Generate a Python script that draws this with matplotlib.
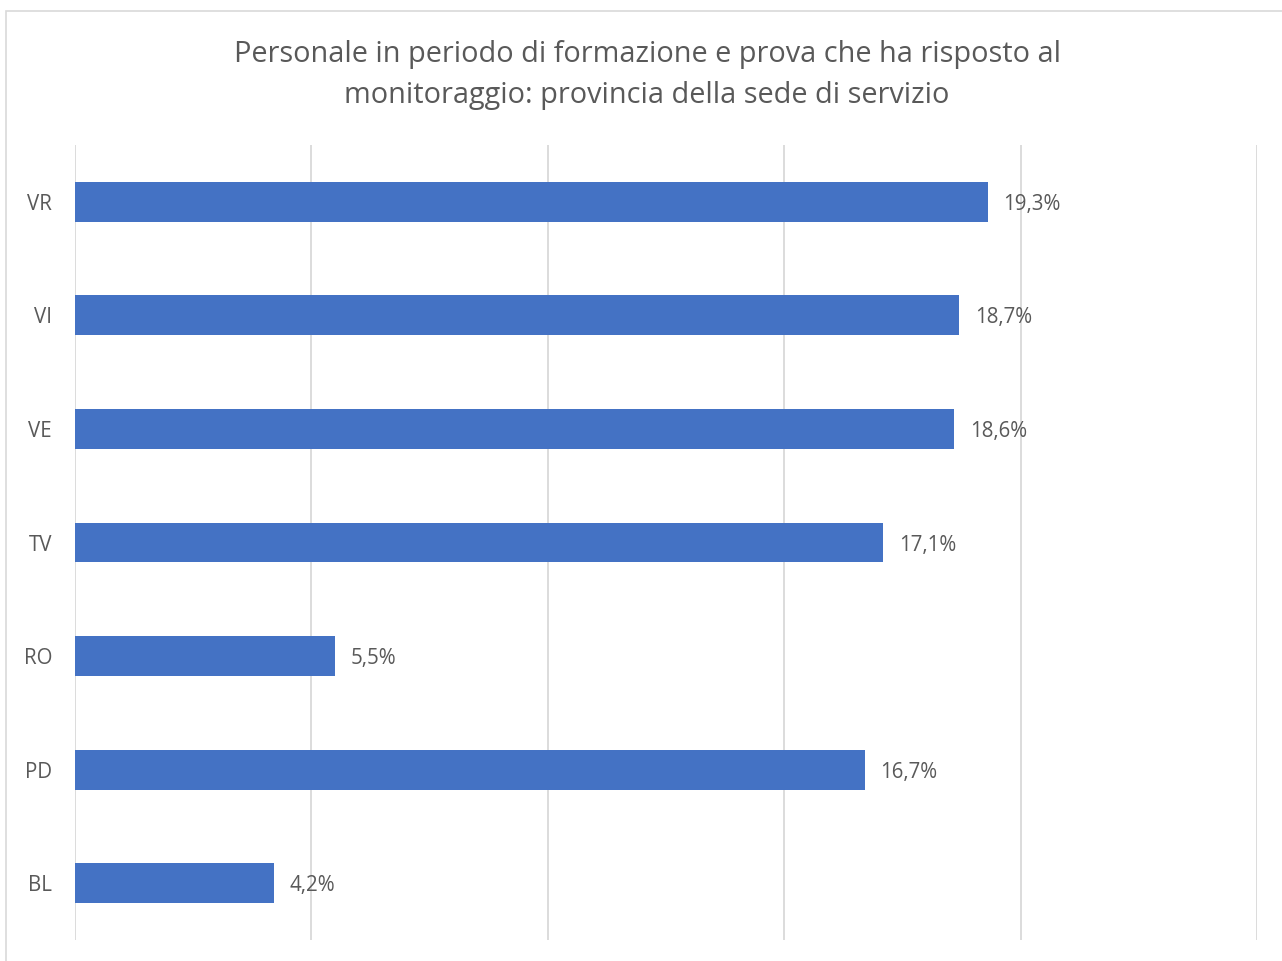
import matplotlib
matplotlib.use("Agg")
import matplotlib.pyplot as plt
from matplotlib.patches import Rectangle

# Data (bottom to top as drawn)
province = ["BL", "PD", "RO", "TV", "VE", "VI", "VR"]
percent = [4.2, 16.7, 5.5, 17.1, 18.6, 18.7, 19.3]
x_ticks = [0, 5, 10, 15, 20, 25]

title = ("Personale in periodo di formazione e prova che ha risposto al\n"
         "monitoraggio: provincia della sede di servizio")

plt.rcParams['font.family'] = ['Open Sans', 'DejaVu Sans']
text_color = "#595959"
bar_color = "#4472C4"
grid_color = "#D9D9D9"

W, H = 1282, 961
fig = plt.figure(figsize=(W / 100, H / 100), dpi=100)

# outer chart frame (partly cut off at right and bottom)
fig.patches.append(Rectangle((5.5 / W, -0.1), 1.2, 1 - 10.5 / H + 0.1,
                             transform=fig.transFigure, fill=False,
                             edgecolor=grid_color, linewidth=1.2))

ax = fig.add_axes([75 / W, 1 - 940 / H, (1257 - 75) / W, (940 - 145) / H])

ypos = range(len(province))
ax.barh(ypos, percent, height=0.35, color=bar_color, zorder=3)

for y, v in zip(ypos, percent):
    ax.annotate(f"{v:.1f}%".replace(".", ","), xy=(v, y), xytext=(11.5, 0),
                textcoords="offset points", va="center_baseline", ha="left",
                fontsize=14.8, color=text_color)

ax.set_xlim(0, 25)
ax.set_ylim(-0.5, len(province) - 0.5)
ax.set_xticks(x_ticks)
ax.set_xticklabels([])
ax.set_yticks(list(ypos))
ax.set_yticklabels(province, fontsize=14.8, color=text_color,
                   va="center_baseline")
ax.tick_params(axis="x", length=0)
ax.tick_params(axis="y", length=0, pad=16.5)
ax.grid(axis="x", color=grid_color, linewidth=1.3, zorder=0)
for s in ax.spines.values():
    s.set_visible(False)

fig.text(647 / W, 1 - 75 / H, title, ha="center", va="center",
         fontsize=20.8, color=text_color, linespacing=1.52)

fig.savefig("out.png", dpi=100)
